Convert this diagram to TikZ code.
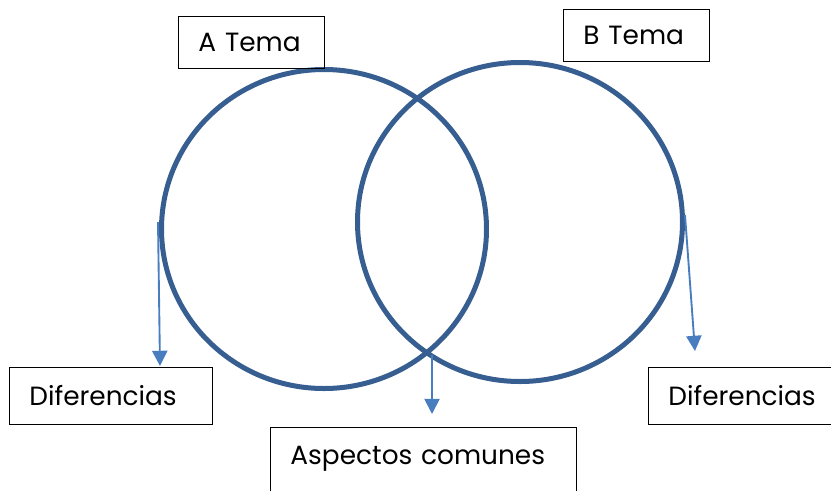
\documentclass[tikz,border=0pt]{standalone}
\usepackage{fontspec}
\setmainfont{Poppins}
\usetikzlibrary{arrows.meta, shapes.geometric}
\definecolor{ringblue}{RGB}{55,94,145}
\definecolor{linkblue}{RGB}{72,126,192}
\def\u{0.03cm}

\begin{document}
\begin{tikzpicture}[x=\u, y=-\u]
\tikzstyle{ring}=[ellipse, draw=ringblue, line width=5*\u, minimum width=325*\u, minimum height=319*\u]
\tikzstyle{topic}=[rectangle, draw=black, line width=0.8pt, anchor=north west, minimum height=52*\u, inner xsep=20*\u, align=left, font=\fontsize{22.5}{27}\selectfont]
\tikzstyle{link}=[draw=linkblue, line width=1.6pt, -{Triangle[width=13pt, length=13pt]}]
%
\clip (0,0) rectangle (831,490);

\node [ring] (lc) at (324,229) {};
\node [ring] (rc) at (520,222) {};

\node [topic, minimum width=146*\u, text width=106*\u] (ta) at (178,16) {A Tema};
\node [topic, minimum width=146*\u, text width=106*\u] (tb) at (563,9) {B Tema};
\node [topic, minimum width=203*\u, minimum height=57*\u, text width=163*\u] (difL) at (9,367) {Diferencias};
\node [topic, minimum width=200*\u, minimum height=57*\u, text width=160*\u] (difR) at (648,367) {Diferencias};
\node [topic, minimum width=306*\u, minimum height=76*\u, text width=266*\u, text depth=20*\u] (common) at (270,427) {Aspectos comunes};

\coordinate (fromL) at (158,222);
\coordinate (toL) at (160,366);
\coordinate (fromM) at (432,355);
\coordinate (toM) at (432,414);
\coordinate (fromR) at (685,215);
\coordinate (toR) at (695,351);

\draw [link] (fromL) -- (toL);
\draw [link] (fromM) -- (toM);
\draw [link] (fromR) -- (toR);
%
\end{tikzpicture}
\end{document}
